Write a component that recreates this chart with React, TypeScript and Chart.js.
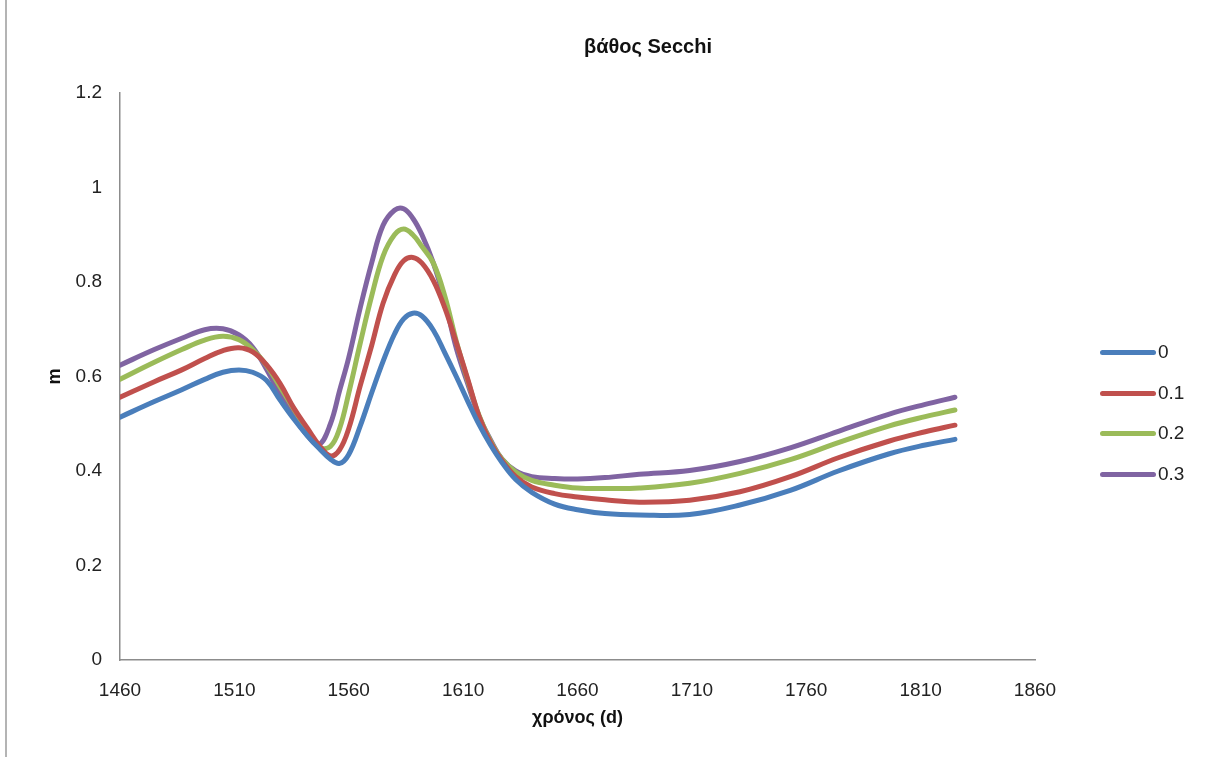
import React, { useEffect, useRef } from "react";
import { Chart, registerables } from "chart.js";

Chart.register(...registerables);

const days = [1460, 1475, 1487, 1497, 1505, 1512, 1518, 1524, 1530, 1536, 1542, 1547, 1552, 1556, 1560, 1565, 1570, 1575, 1580, 1584, 1588, 1592, 1597, 1602, 1607, 1612, 1617, 1622, 1627, 1633, 1640, 1650, 1660, 1672, 1687, 1709, 1731, 1753, 1774, 1796, 1812, 1825];

const s0 = [0.514, 0.547, 0.572, 0.594, 0.609, 0.614, 0.609, 0.592, 0.55, 0.51, 0.474, 0.448, 0.425, 0.416, 0.435, 0.495, 0.565, 0.632, 0.69, 0.722, 0.734, 0.728, 0.698, 0.65, 0.6, 0.548, 0.498, 0.455, 0.418, 0.382, 0.355, 0.33, 0.318, 0.31, 0.307, 0.308, 0.328, 0.359, 0.4, 0.436, 0.455, 0.467];
const s1 = [0.556, 0.589, 0.614, 0.638, 0.655, 0.661, 0.652, 0.625, 0.585, 0.533, 0.49, 0.455, 0.432, 0.445, 0.49, 0.58, 0.665, 0.755, 0.815, 0.845, 0.852, 0.84, 0.803, 0.745, 0.672, 0.595, 0.515, 0.46, 0.422, 0.388, 0.366, 0.352, 0.345, 0.339, 0.334, 0.338, 0.356, 0.388, 0.428, 0.463, 0.483, 0.497];
const s2 = [0.594, 0.63, 0.657, 0.677, 0.685, 0.678, 0.657, 0.624, 0.578, 0.531, 0.485, 0.45, 0.452, 0.49, 0.565, 0.67, 0.77, 0.855, 0.9, 0.912, 0.9, 0.875, 0.84, 0.77, 0.675, 0.592, 0.517, 0.463, 0.425, 0.398, 0.38, 0.37, 0.364, 0.363, 0.364, 0.374, 0.395, 0.424, 0.46, 0.495, 0.515, 0.529];
const s3 = [0.624, 0.657, 0.681, 0.699, 0.701, 0.688, 0.662, 0.616, 0.562, 0.515, 0.475, 0.456, 0.5, 0.57, 0.64, 0.745, 0.84, 0.92, 0.952, 0.955, 0.935, 0.9, 0.84, 0.76, 0.66, 0.585, 0.515, 0.466, 0.425, 0.4, 0.388, 0.384, 0.383, 0.386, 0.393, 0.401, 0.42, 0.449, 0.484, 0.52, 0.541, 0.556];

const seriesNames = ["0", "0.1", "0.2", "0.3"];
const seriesValues = [s0, s1, s2, s3];
const seriesColors = ["#4a7ebb", "#c0504d", "#9bbb59", "#8064a2"];

const titleText = "βάθος Secchi";
const xTitle = "χρόνος (d)";
const yTitle = "m";

const FONT = "'Liberation Sans', Arial, sans-serif";

export default function App() {
  const ref = useRef<HTMLCanvasElement | null>(null);

  useEffect(() => {
    if (!ref.current) return;
    const datasets = seriesNames.map((name, i) => ({
      label: name,
      data: days.map((d, j) => ({ x: d, y: seriesValues[i][j] })),
      borderColor: seriesColors[i],
      backgroundColor: seriesColors[i],
      borderWidth: 5,
      pointRadius: 0,
      fill: false,
      tension: 0.4,
      borderCapStyle: "round" as const,
      borderJoinStyle: "round" as const,
    }));
    const chart = new Chart(ref.current, {
      type: "line",
      data: { datasets },
      options: {
        animation: false,
        responsive: false,
        devicePixelRatio: 1,
        layout: { padding: { left: 0, right: 178, top: 93, bottom: 0 } },
        plugins: {
          legend: { display: false },
          tooltip: { enabled: false },
          title: { display: false },
        },
        scales: {
          x: {
            type: "linear",
            min: 1460,
            max: 1860,
            ticks: {
              stepSize: 50,
              color: "#222",
              font: { family: FONT, size: 19 },
              padding: 19,
              maxRotation: 0,
              callback: (v: any) => String(v),
            },
            grid: { display: true, drawOnChartArea: false, drawTicks: false },
            border: { display: true, color: "#8c8c8c", width: 1.5 },
            title: {
              display: true,
              text: xTitle,
              color: "#111",
              font: { family: FONT, size: 18, weight: "bold" },
              padding: { top: 0, bottom: 28 },
            },
            afterFit: (s: any) => {
              s.height = 97;
            },
          },
          y: {
            type: "linear",
            min: 0,
            max: 1.2,
            ticks: {
              stepSize: 0.2,
              color: "#222",
              font: { family: FONT, size: 19 },
              padding: 18,
              callback: (v: any) => String(Number(Number(v).toFixed(1))),
            },
            grid: { display: true, drawOnChartArea: false, drawTicks: false },
            border: { display: true, color: "#8c8c8c", width: 1.5 },
            title: {
              display: true,
              text: yTitle,
              color: "#111",
              font: { family: FONT, size: 18, weight: "bold" },
              padding: { top: 44, bottom: 0 },
            },
            afterFit: (s: any) => {
              s.width = 120;
            },
          },
        },
      },
    });
    return () => chart.destroy();
  }, []);

  const legendTops = [352, 393, 433, 474];

  return (
    <div style={{ position: "absolute", left: 0, top: 0, width: 1213, height: 757, background: "#fff", overflow: "hidden" }}>
      <div style={{ position: "absolute", left: 5, top: 0, width: 2, height: 757, background: "#b4b4b4" }} />
      <canvas ref={ref} width={1213} height={757} style={{ position: "absolute", left: 0, top: 0, display: "block" }} />
      <div style={{ position: "absolute", left: 0, top: 34, width: 1296, height: 24, lineHeight: "24px", textAlign: "center", fontFamily: FONT, fontSize: 20, fontWeight: "bold", color: "#111" }}>
        {titleText}
      </div>
      {seriesNames.map((name, i) => (
        <div key={name} style={{ position: "absolute", left: 1100, top: legendTops[i] - 12, height: 24, display: "flex", alignItems: "center", fontFamily: FONT, fontSize: 19, color: "#222" }}>
          <div style={{ width: 56, height: 5, borderRadius: 3, background: seriesColors[i], marginRight: 2 }} />
          <span>{name}</span>
        </div>
      ))}
    </div>
  );
}
